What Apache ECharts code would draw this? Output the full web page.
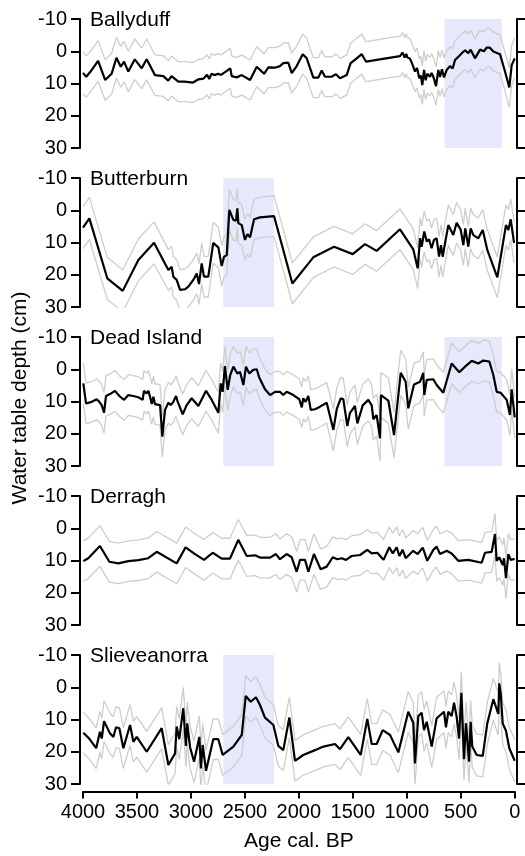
<!DOCTYPE html>
<html><head><meta charset="utf-8">
<script src="https://cdn.jsdelivr.net/npm/echarts@6/dist/echarts.min.js"></script>
<style>html,body{margin:0;padding:0;background:#fff}#c{width:525px;height:856px}</style>
</head><body><div id="c"></div>
<script>
// [age cal. BP, water table depth (cm), uncertainty half-width (cm)]
const ballyduff = [[4000,6.7,6.5],[3970,7.9,6.4],[3930,6.3,6.3],[3860,3.0,6.3],[3795,8.9,6.3],[3735,7.0,6.3],[3690,2.0,6.3],[3650,4.8,6.3],[3620,3.2,6.3],[3580,6.3,6.3],[3520,2.5,6.3],[3456,5.3,6.3],[3410,2.5,6.3],[3333,7.4,6.3],[3256,7.7,6.3],[3210,9.1,6.2],[3180,7.7,6.2],[3117,9.4,6.2],[3100,9.9,6.2],[3060,9.4,6.2],[2980,9.7,6.2],[2930,8.7,6.2],[2885,8.5,6.2],[2850,7.3,6.2],[2830,8.6,6.2],[2810,7.0,6.2],[2780,7.4,6.2],[2750,7.0,6.2],[2720,7.3,6.2],[2635,5.3,6.2],[2622,7.7,6.2],[2576,8.1,6.2],[2529,7.4,6.2],[2452,8.9,6.2],[2390,4.8,6.2],[2322,7.0,6.2],[2283,5.0,6.2],[2221,5.1,6.2],[2175,4.6,6.2],[2144,3.7,6.2],[2098,3.5,6.2],[2066,6.8,6.2],[2020,4.6,6.2],[1964,0.9,6.2],[1927,2.2,6.2],[1866,8.2,6.2],[1820,8.2,6.2],[1788,6.0,6.2],[1758,7.9,6.2],[1696,7.9,6.2],[1656,7.1,6.2],[1619,8.4,6.2],[1557,7.4,6.2],[1520,3.7,6.2],[1464,2.2,6.2],[1418,0.9,6.2],[1378,3.2,6.2],[1063,1.5,6.2],[1038,0.4,6.2],[1020,2.0,6.2],[1005,0.8,6.2],[995,1.9,6.2],[970,2.3,6.2],[945,4.3,6.2],[924,6.3,6.2],[905,5.2,6.2],[884,8.4,6.0],[870,7.5,6.0],[856,10.5,6.0],[840,5.8,6.0],[825,9.0,6.0],[810,7.0,6.0],[785,7.9,6.0],[770,6.7,6.0],[750,8.3,6.0],[729,10.8,6.0],[708,5.8,6.0],[692,8.0,6.0],[674,5.6,6.0],[655,8.1,6.0],[630,5.8,6.0],[600,4.6,6.0],[575,5.3,6.0],[553,2.7,6.0],[522,1.7,6.0],[490,0.6,6.0],[460,-0.3,6.0],[430,0.6,6.0],[408,-0.5,6.0],[368,2.2,6.0],[321,-0.5,6.0],[285,0.0,6.0],[260,-1.1,6.0],[230,-1.1,6.0],[198,0.1,6.0],[136,0.9,6.0],[90,6.3,6.0],[50,11.2,6.2],[28,4.3,6.2],[0,2.2,6.2]];
const butterburn = [[4000,5.4,6.5],[3941,2.5,6.5],[3775,21.1,6.5],[3632,25.0,6.5],[3487,15.4,6.5],[3342,10.1,6.5],[3209,18.5,6.3],[3179,17.5,6.3],[3163,20.6,6.3],[3132,21.6,6.3],[3101,24.7,6.3],[3055,24.5,6.3],[3024,23.7,6.3],[2978,21.6,6.3],[2946,19.6,6.3],[2925,22.9,6.3],[2900,16.5,6.3],[2879,20.6,6.3],[2839,20.6,6.3],[2793,10.1,6.3],[2746,11.5,6.3],[2715,17.3,6.3],[2693,14.4,6.3],[2668,13.9,6.3],[2644,-0.1,6.3],[2607,3.0,6.3],[2582,3.2,6.3],[2570,-0.6,6.3],[2561,4.0,6.3],[2529,4.6,6.3],[2499,9.2,6.3],[2477,7.4,6.3],[2452,8.4,6.3],[2415,2.8,6.3],[2360,2.2,6.3],[2230,1.8,6.3],[2060,22.7,6.3],[1866,14.6,6.3],[1674,11.3,6.3],[1501,13.6,6.3],[1387,10.5,6.3],[1279,12.6,6.3],[1063,5.9,6.3],[940,12.1,6.3],[899,18.0,6.3],[877,8.7,6.3],[862,11.3,6.3],[838,6.6,6.3],[815,9.7,6.3],[794,9.0,6.3],[770,11.8,6.3],[748,9.2,6.3],[723,8.7,6.3],[701,14.4,6.3],[683,10.8,6.3],[667,14.4,6.3],[646,10.3,6.3],[615,4.6,6.3],[569,7.7,6.3],[538,3.9,6.3],[500,6.1,6.3],[476,10.8,6.3],[458,5.6,6.3],[430,11.3,6.3],[408,5.6,6.3],[383,7.7,6.3],[337,8.7,6.3],[296,6.1,6.3],[254,12.3,6.3],[161,20.8,6.3],[81,4.6,6.3],[59,6.1,6.3],[37,2.8,6.3],[6,10.1,6.3],[0,10.1,6.3]];
const deadIsland = [[3997,4.4,6.3],[3972,10.6,6.3],[3919,10.1,6.3],[3873,9.3,6.3],[3849,10.1,6.3],[3827,11.1,6.3],[3805,13.5,6.3],[3787,8.3,6.3],[3750,7.7,6.3],[3704,6.7,6.3],[3663,8.3,6.3],[3620,9.5,6.3],[3580,8.0,6.3],[3534,8.3,6.3],[3487,8.7,6.3],[3447,9.5,6.3],[3435,6.7,6.3],[3410,7.5,6.3],[3394,6.7,6.3],[3379,8.5,6.3],[3363,10.8,6.3],[3348,8.5,6.3],[3333,10.8,6.3],[3286,11.1,6.3],[3265,20.9,6.3],[3240,12.6,6.3],[3209,10.4,6.3],[3187,11.1,6.3],[3163,10.1,6.3],[3138,8.3,6.3],[3122,10.1,6.3],[3076,14.0,6.3],[3039,11.1,6.3],[2993,9.0,6.3],[2931,11.4,6.3],[2860,6.7,6.3],[2807,9.5,6.3],[2746,13.5,6.3],[2724,4.4,6.3],[2706,7.0,6.3],[2685,-1.0,6.3],[2659,6.4,6.3],[2636,1.8,6.3],[2606,-0.8,6.3],[2570,1.3,6.3],[2545,0.8,6.3],[2514,4.9,6.3],[2490,-0.8,6.3],[2459,1.3,6.3],[2422,0.2,6.3],[2390,0.0,6.3],[2368,2.5,6.3],[2314,6.2,6.3],[2267,8.0,6.3],[2221,7.0,6.3],[2175,7.0,6.3],[2144,8.0,6.3],[2113,7.0,6.3],[2051,8.0,6.3],[1996,9.3,6.3],[1973,11.8,6.3],[1959,9.0,6.3],[1937,10.1,6.3],[1912,8.3,6.3],[1890,12.6,6.3],[1850,12.4,6.3],[1804,11.6,6.3],[1742,10.4,6.3],[1680,18.8,6.5],[1649,12.4,6.5],[1612,9.0,6.5],[1588,9.3,6.5],[1551,17.6,6.5],[1526,13.5,6.5],[1480,11.4,6.5],[1458,16.8,6.5],[1408,11.2,6.5],[1356,9.5,6.5],[1325,11.2,6.5],[1310,15.5,6.5],[1279,14.2,6.5],[1248,21.4,7.0],[1239,8.0,7.0],[1171,9.7,7.0],[1118,20.4,7.0],[1056,1.1,7.0],[1010,3.9,7.0],[986,12.1,6.5],[933,4.7,6.5],[877,3.9,6.5],[847,1.1,6.5],[838,8.0,6.5],[815,3.3,6.3],[754,3.1,6.3],[723,4.9,6.3],[662,7.3,6.3],[584,-1.8,6.3],[513,0.9,6.3],[460,-0.8,6.3],[398,-2.6,6.3],[337,-1.8,6.3],[291,-2.7,6.3],[235,-2.4,6.3],[198,1.8,6.3],[167,7.0,6.3],[130,7.3,6.3],[74,9.5,6.3],[44,14.2,6.3],[28,6.2,6.3],[0,14.9,6.3]];
const derragh = [[3997,10.2,6.3],[3951,9.3,6.3],[3843,5.5,6.3],[3756,10.4,6.3],[3673,10.9,6.3],[3580,10.2,6.3],[3487,9.9,6.3],[3395,9.3,6.3],[3317,7.3,6.3],[3132,10.9,6.3],[3049,5.9,6.3],[2962,8.0,6.3],[2879,9.8,6.3],[2798,7.6,6.3],[2715,9.4,6.3],[2638,9.4,6.3],[2561,3.6,6.3],[2483,8.6,6.3],[2406,8.4,6.3],[2360,9.1,6.3],[2267,9.1,6.3],[2212,8.0,6.3],[2175,9.6,6.3],[2113,8.0,6.3],[2066,9.0,6.3],[2020,13.5,6.3],[1989,9.8,6.3],[1943,9.8,6.3],[1912,13.5,6.3],[1860,8.0,6.3],[1798,12.7,6.3],[1742,11.9,6.3],[1686,9.0,6.3],[1644,9.6,6.3],[1603,9.3,6.3],[1563,9.8,6.3],[1510,8.6,6.3],[1433,8.3,6.3],[1366,6.7,6.3],[1325,7.8,6.3],[1273,7.6,6.3],[1215,9.8,6.3],[1162,5.9,6.3],[1130,7.8,6.3],[1093,5.9,6.3],[1069,8.6,6.3],[1038,6.7,6.3],[1010,9.3,6.3],[940,7.0,6.3],[899,8.0,6.3],[852,6.0,6.3],[810,10.1,6.3],[754,6.7,6.3],[723,5.7,6.3],[692,8.0,6.3],[630,7.0,6.3],[584,7.8,6.3],[523,10.1,6.3],[430,9.8,6.3],[306,10.7,6.3],[275,7.6,6.3],[213,7.3,6.3],[183,1.8,6.3],[167,10.1,6.3],[143,9.0,6.3],[111,11.4,6.3],[99,9.3,6.3],[81,15.5,6.3],[59,8.0,6.3],[37,9.8,6.3],[13,9.6,6.3],[0,9.6,6.3]];
const slieveanorra = [[3997,14.1,6.3],[3941,16.0,6.3],[3878,18.9,6.3],[3843,13.8,6.3],[3826,15.9,6.3],[3805,10.5,6.3],[3787,10.6,6.3],[3750,14.3,6.3],[3719,15.4,6.3],[3694,12.4,6.3],[3663,12.7,6.3],[3626,18.9,6.3],[3564,11.7,6.3],[3533,16.9,6.3],[3502,15.4,6.3],[3410,20.0,6.3],[3271,12.7,6.3],[3209,24.1,6.3],[3147,20.5,6.3],[3132,12.2,6.3],[3108,16.1,6.3],[3071,6.5,6.5],[3046,18.2,6.5],[3034,11.2,6.5],[3008,18.6,6.5],[2971,23.1,6.5],[2922,15.4,6.5],[2907,25.2,6.5],[2891,17.9,6.5],[2860,25.9,6.5],[2793,16.1,6.3],[2746,16.1,6.3],[2706,21.0,6.3],[2607,18.4,6.3],[2529,14.8,6.3],[2492,2.7,6.3],[2446,4.5,6.3],[2397,3.1,6.3],[2360,5.5,6.3],[2314,9.4,6.3],[2236,11.7,6.3],[2190,18.2,6.3],[2144,19.5,6.3],[2088,9.4,6.3],[2036,22.8,6.3],[1959,21.0,6.3],[1850,19.5,6.3],[1773,18.4,6.3],[1665,17.6,6.3],[1619,19.2,6.3],[1542,15.5,6.3],[1427,21.0,6.3],[1366,9.8,6.3],[1325,17.6,6.3],[1279,17.6,6.3],[1223,13.3,6.3],[1155,14.8,6.3],[1078,20.2,6.3],[986,7.6,6.3],[940,11.0,6.3],[924,23.6,6.5],[893,8.9,6.5],[862,7.9,6.5],[840,13.3,6.5],[815,10.7,6.5],[769,18.4,6.5],[723,9.6,6.5],[655,7.6,6.5],[637,12.4,6.5],[615,7.6,6.5],[584,8.9,6.5],[562,4.8,6.5],[538,9.1,6.5],[516,15.9,6.5],[494,1.7,6.5],[470,22.3,6.5],[451,11.2,6.5],[439,11.2,6.5],[423,23.1,6.5],[408,10.7,6.5],[393,18.4,6.5],[352,21.0,6.5],[296,21.3,6.5],[254,11.2,6.5],[198,3.7,6.5],[152,8.3,6.5],[143,-1.2,6.5],[130,1.9,6.5],[120,1.9,6.5],[111,11.2,6.5],[81,13.5,6.5],[50,18.9,6.5],[0,22.8,6.5]];

const siteNames = ['Ballyduff', 'Butterburn', 'Dead Island', 'Derragh', 'Slieveanorra'];
const sites = [ballyduff, butterburn, deadIsland, derragh, slieveanorra];
// shaded periods [from, to] in cal. BP per panel
const shadedPeriods = [[[650, 120]], [[2700, 2230]], [[2700, 2230], [650, 120]], [], [[2700, 2230]]];
const ageTicks = [4000, 3500, 3000, 2500, 2000, 1500, 1000, 500, 0];
const depthTicks = [-10, 0, 10, 20, 30];

const FONT = '"Liberation Sans", Arial, Helvetica, sans-serif';
const tops = [19, 178, 337, 496, 655];
const PH = 129;
const grid = [], xAxis = [], yAxis = [], series = [], title = [];
const blk = '#000';
const plain = v => String(v);
sites.forEach((d, i) => {
  const last = i === sites.length - 1;
  grid.push({ left: 83, right: 10.3, top: tops[i], height: PH, outerBoundsMode: 'none', containLabel: false });
  xAxis.push({
    type: 'value', gridIndex: i, min: ageTicks[ageTicks.length - 1], max: ageTicks[0], interval: 500, inverse: true,
    show: last, offset: 7.5,
    axisLine: { show: true, onZero: false, lineStyle: { color: blk, width: 2 } },
    axisTick: { show: true, length: 7, lineStyle: { color: blk, width: 2 } },
    axisLabel: { show: true, fontSize: 20, color: blk, fontFamily: FONT, margin: 11, showMinLabel: true, showMaxLabel: true, formatter: plain },
    splitLine: { show: false },
    name: last ? 'Age cal. BP' : '', nameLocation: 'middle', nameGap: 39,
    nameTextStyle: { fontSize: 21, color: blk, fontFamily: FONT }
  });
  const yBase = {
    type: 'value', gridIndex: i, min: depthTicks[0], max: depthTicks[depthTicks.length - 1], interval: 10, inverse: true,
    axisLine: { show: true, onZero: false, lineStyle: { color: blk, width: 2 } },
    splitLine: { show: false }
  };
  yAxis.push(Object.assign({}, yBase, {
    position: 'left', offset: 3,
    axisTick: { show: true, length: 9, lineStyle: { color: blk, width: 2 } },
    axisLabel: { show: true, fontSize: 20, color: blk, fontFamily: FONT, margin: 13, showMinLabel: true, showMaxLabel: true, formatter: plain }
  }));
  yAxis.push(Object.assign({}, yBase, {
    position: 'right', offset: 2.5,
    axisTick: { show: true, length: 10, lineStyle: { color: blk, width: 2 } },
    axisLabel: { show: false }
  }));
  const upper = d.map(p => [p[0], p[1] - p[2]]);
  const lower = d.map(p => [p[0], p[1] + p[2]]);
  const grey = { color: '#cdcdcd', width: 1.3 };
  series.push({
    type: 'line', xAxisIndex: i, yAxisIndex: 2 * i, data: upper, symbol: 'none', lineStyle: grey, z: 2, silent: true,
    markArea: {
      silent: true, z: 1, itemStyle: { color: '#e6e8fb' },
      data: shadedPeriods[i].map(s => [{ xAxis: s[0] }, { xAxis: s[1] }])
    }
  });
  series.push({ type: 'line', xAxisIndex: i, yAxisIndex: 2 * i, data: lower, symbol: 'none', lineStyle: grey, z: 2, silent: true });
  series.push({ type: 'line', xAxisIndex: i, yAxisIndex: 2 * i, data: d.map(p => [p[0], p[1]]), symbol: 'none',
    lineStyle: { color: blk, width: 2.2 }, z: 3, silent: true });
  title.push({ text: siteNames[i], left: 90, top: tops[i] - 9, padding: 0,
    textStyle: { fontSize: 21, fontWeight: 'normal', color: blk, fontFamily: FONT } });
});

const chart = echarts.init(document.getElementById('c'), null, { renderer: 'canvas' });
chart.setOption({
  animation: false,
  backgroundColor: '#fff',
  title, grid, xAxis, yAxis, series,
  graphic: [{
    type: 'text', x: 20, y: 398, rotation: Math.PI / 2,
    style: { text: 'Water table depth (cm)', font: '21px "Liberation Sans", Arial, sans-serif', fill: blk, align: 'center', verticalAlign: 'middle' }
  }]
});
</script>
</body></html>
